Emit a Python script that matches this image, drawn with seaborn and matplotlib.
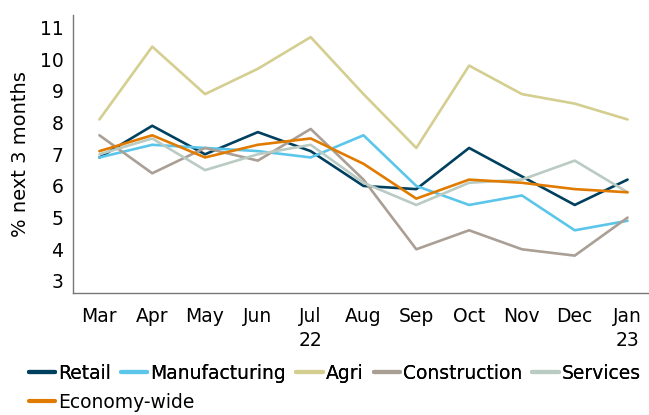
import numpy as np
import pandas as pd
import matplotlib
matplotlib.use("Agg")
import matplotlib.pyplot as plt
import seaborn as sns

months = ["Mar", "Apr", "May", "Jun", "Jul\n22", "Aug", "Sep", "Oct", "Nov", "Dec", "Jan\n23"]
retail = [6.9, 7.9, 7.0, 7.7, 7.1, 6.0, 5.9, 7.2, 6.3, 5.4, 6.2]
manufacturing = [6.9, 7.3, 7.2, 7.1, 6.9, 7.6, 6.0, 5.4, 5.7, 4.6, 4.9]
agri = [8.1, 10.4, 8.9, 9.7, 10.7, 8.9, 7.2, 9.8, 8.9, 8.6, 8.1]
construction = [7.6, 6.4, 7.2, 6.8, 7.8, 6.2, 4.0, 4.6, 4.0, 3.8, 5.0]
services = [7.0, 7.5, 6.5, 7.0, 7.3, 6.1, 5.4, 6.1, 6.2, 6.8, 5.8]
economy = [7.1, 7.6, 6.9, 7.3, 7.5, 6.7, 5.6, 6.2, 6.1, 5.9, 5.8]

series = {
    "Retail": retail,
    "Manufacturing": manufacturing,
    "Agri": agri,
    "Construction": construction,
    "Services": services,
    "Economy-wide": economy,
}
colors = ["#00405f", "#5cc6ea", "#d4ce90", "#aa9f95", "#b9cbc2", "#e07b00"]

rows = []
for name, vals in series.items():
    for i, v in enumerate(vals):
        rows.append({"pos": i, "value": v, "sector": name})
df = pd.DataFrame(rows)

sns.set_style("white")
plt.rcParams["font.family"] = ["DejaVu Sans"]
plt.rcParams["text.color"] = "black"
plt.rcParams["axes.labelcolor"] = "black"
plt.rcParams["xtick.labelcolor"] = "black"
plt.rcParams["ytick.labelcolor"] = "black"
fs = 13.5

fig = plt.figure(figsize=(6.49, 4.15), dpi=100)
ax = fig.add_axes([0.1125, 0.294, 0.887, 0.67])

sns.lineplot(data=df, x="pos", y="value", hue="sector", hue_order=list(series.keys()),
             palette=colors, linewidth=1.9, ax=ax, legend=True)

ax.set_xlim(-0.5, 10.4)
ax.set_ylim(2.62, 11.4)
ax.set_yticks(range(3, 12))
ax.set_xticks(range(len(months)))
ax.set_xticklabels(months, fontsize=fs, linespacing=1.35)
ax.set_xticks(np.arange(-0.5, 10, 1), minor=True)
ax.tick_params(axis="x", which="major", length=0, pad=10)
ax.tick_params(axis="x", which="minor", length=4, color="#777777", width=1, direction="out")
ax.tick_params(axis="y", length=4, color="#777777", width=1, direction="out", labelsize=fs, pad=3)
ax.xaxis.get_minor_ticks()[10].tick1line.set_markersize(9)

ax.set_xlabel("")
ax.set_ylabel("% next 3 months", fontsize=fs + 0.5, labelpad=7)
for s in ["top", "right"]:
    ax.spines[s].set_visible(False)
for s in ["left", "bottom"]:
    ax.spines[s].set_color("#777777")
    ax.spines[s].set_linewidth(1)

handles, labels = ax.get_legend_handles_labels()
ax.get_legend().remove()
leg_kw = dict(frameon=False, handlelength=1.4, handletextpad=0.16, columnspacing=0.55,
              borderaxespad=0, borderpad=0, fontsize=fs, loc="center left")
leg1 = fig.legend(handles[:5], labels[:5], ncol=5, bbox_to_anchor=(0.044, 0.101), **leg_kw)
fig.add_artist(leg1)
fig.legend(handles[5:], labels[5:], ncol=1, bbox_to_anchor=(0.044, 0.03), **leg_kw)
for lg in fig.legends:
    for ln in lg.get_lines():
        ln.set_linewidth(3)

fig.savefig("out.png", dpi=100)
